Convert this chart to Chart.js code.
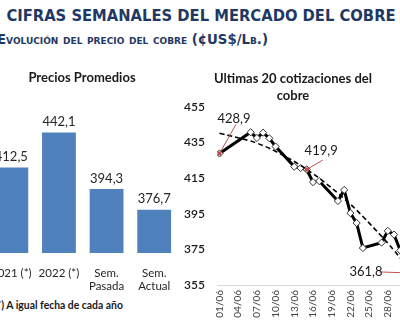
<!DOCTYPE html>
<html>
<head>
<meta charset="utf-8">
<script src="https://cdn.jsdelivr.net/npm/chart.js@4.4.0/dist/chart.umd.min.js"></script>
<style>
  body { margin: 0; width: 400px; height: 327px; overflow: hidden; position: relative; background: #fff; }
  #title { position: absolute; left: -49px; top: 6px; width: 500px; text-align: center; white-space: nowrap;
           font: bold 16px "DejaVu Sans"; color: #1F3864; transform: scaleX(0.923); transform-origin: 250px 0; }
  #subtitle { position: absolute; left: -3px; top: 32px; white-space: nowrap;
              font: bold 13.3px "DejaVu Sans"; font-variant: small-caps; color: #1F3864; }
  #note { position: absolute; left: -6px; top: 299px; white-space: nowrap; font: bold 10.4px Lato; color: #1a1a1a; }
  .box { position: absolute; }
</style>
</head>
<body>
<div id="title">CIFRAS SEMANALES DEL MERCADO DEL COBRE</div>
<div id="subtitle">Evolución del precio del cobre (¢US$/Lb.)</div>
<div class="box" style="left:-14px; top:66px; width:192px; height:227px;"><canvas id="barChart"></canvas></div>
<div class="box" style="left:177px; top:66px; width:252px; height:259px;"><canvas id="lineChart"></canvas></div>
<div id="note">(*) A igual fecha de cada año</div>
<script>
// Precios promedios
const barLabels = [['2021 (*)'], ['2022 (*)'], ['Sem.', 'Pasada'], ['Sem.', 'Actual']];
const barValues = [412.5, 442.1, 394.3, 376.7];

// Ultimas cotizaciones (dia de junio; 31 = 01/07)
const quoteDays = [1, 6, 7, 8, 9, 10, 13, 14, 15, 16, 17, 20, 21, 22, 23, 24, 27, 28, 29, 30, 31];
const quotePrices = [428.9, 440.8, 437.6, 440.6, 437.4, 432.8, 421.5, 420.7, 419.9, 412.8, 413.4,
                     402.2, 408.4, 395.4, 389.8, 375.8, 378.8, 385.4, 383.3, 374.4, 361.8];
const trendPrices = [440.3, 435.9, 434.7, 433.3, 431.8, 430.1, 424.4, 422.2, 420.0, 417.5, 415.0,
                     406.6, 403.5, 400.4, 397.0, 393.5, 382.4, 378.5, 374.4, 370.2, 365.7];
const tickDays = [1, 4, 7, 10, 13, 16, 19, 22, 25, 28, 31];
const tickLabels = ['01/06', '04/06', '07/06', '10/06', '13/06', '16/06', '19/06', '22/06', '25/06', '28/06', '01/07'];
const yTicks = [355, 375, 395, 415, 435, 455];
const labelledPoints = [0, 8, 20];

function fmt(v) {
    return v.toFixed(1).replace('.', ',');
}

// values above the bars
const barValueLabels = {
    id: 'barValueLabels',
    afterDatasetsDraw(chart) {
        const ctx = chart.ctx;
        ctx.save();
        ctx.font = '13px Lato';
        ctx.fillStyle = '#262626';
        ctx.textAlign = 'center';
        ctx.textBaseline = 'middle';
        chart.getDatasetMeta(0).data.forEach((bar, i) => {
            ctx.fillText(fmt(barValues[i]), bar.x, bar.y - 10.5);
        });
        ctx.restore();
    }
};

// labels with leader lines on the line chart
const callouts = {
    id: 'callouts',
    afterDatasetsDraw(chart) {
        const ctx = chart.ctx;
        const pts = chart.getDatasetMeta(1).data;
        const offsets = [
            { dx: 14.5, dy: -35, lx: 16.5, ly: -29 },
            { dx: 14.4, dy: -18.5, lx: 16, ly: -9.5 },
            { dx: -40.5, dy: -1, lx: -27, ly: -1 }
        ];
        ctx.save();
        labelledPoints.forEach((idx, k) => {
            const p = pts[idx];
            const o = offsets[k];
            ctx.strokeStyle = '#C0504D';
            ctx.lineWidth = 1;
            ctx.beginPath();
            ctx.moveTo(p.x + o.lx, p.y + o.ly);
            ctx.lineTo(p.x, p.y);
            ctx.stroke();
            ctx.fillStyle = '#C0504D';
            ctx.fillRect(p.x - 2, p.y - 2, 4, 4);
            ctx.font = '13px Lato';
            ctx.fillStyle = '#1a1a1a';
            ctx.textAlign = 'center';
            ctx.textBaseline = 'middle';
            ctx.fillText(fmt(quotePrices[idx]), p.x + o.dx, p.y + o.dy);
        });
        ctx.restore();
    }
};

new Chart(document.getElementById('barChart'), {
    type: 'bar',
    data: {
        labels: barLabels,
        datasets: [{
            data: barValues,
            backgroundColor: '#4F81BD',
            categoryPercentage: 1,
            barPercentage: 0.71
        }]
    },
    options: {
        responsive: true,
        maintainAspectRatio: false,
        animation: false,
        layout: { padding: 0 },
        plugins: {
            legend: { display: false },
            tooltip: { enabled: false },
            title: {
                display: true,
                text: 'Precios Promedios',
                color: '#1a1a1a',
                font: { family: 'Lato', size: 13, weight: 'bold' },
                padding: { top: 3.6, bottom: 14.4 }
            }
        },
        scales: {
            x: {
                grid: { display: false },
                border: { display: false },
                ticks: { color: '#262626', font: { family: 'Lato', size: 11.5 }, maxRotation: 0, autoSkip: false, padding: 5 },
                afterFit: s => { s.height = 40; }
            },
            y: { display: false, min: 340, max: 470 }
        }
    },
    plugins: [barValueLabels]
});

new Chart(document.getElementById('lineChart'), {
    type: 'line',
    data: {
        datasets: [{
            data: quoteDays.map((d, i) => ({ x: d, y: trendPrices[i] })),
            borderColor: '#000',
            borderWidth: 1.6,
            borderDash: [5, 3],
            pointRadius: 0,
            tension: 0.4
        }, {
            data: quoteDays.map((d, i) => ({ x: d, y: quotePrices[i] })),
            borderColor: '#000',
            borderWidth: 3,
            pointStyle: 'rectRot',
            pointRadius: 3.6,
            pointBackgroundColor: '#fff',
            pointBorderColor: '#333',
            pointBorderWidth: 1
        }]
    },
    options: {
        responsive: true,
        maintainAspectRatio: false,
        animation: false,
        layout: { padding: { right: 20 } },
        plugins: {
            legend: { display: false },
            tooltip: { enabled: false },
            title: {
                display: true,
                text: ['Ultimas 20 cotizaciones del', 'cobre'],
                color: '#1a1a1a',
                font: { family: 'Lato', size: 13, weight: 'bold', lineHeight: 1.3 },
                padding: { top: 4.6, bottom: 2.6 }
            }
        },
        scales: {
            x: {
                type: 'linear',
                min: 0.6,
                max: 31.4,
                grid: { display: false, drawTicks: false },
                border: { color: '#D9D9D9', width: 1 },
                afterBuildTicks: s => { s.ticks = tickDays.map(v => ({ value: v })); },
                ticks: {
                    color: '#404040',
                    font: { family: 'Lato', size: 10 },
                    minRotation: 90,
                    maxRotation: 90,
                    padding: 5,
                    autoSkip: false,
                    callback: v => tickLabels[tickDays.indexOf(v)]
                },
                afterFit: s => { s.height = 40; }
            },
            y: {
                min: 355,
                max: 455,
                grid: { display: false, drawTicks: false },
                border: { display: false },
                afterBuildTicks: s => { s.ticks = yTicks.map(v => ({ value: v })); },
                ticks: { color: '#1a1a1a', font: { family: 'Lato', size: 12, weight: '600' }, padding: 12 },
                afterFit: s => { s.width = 40; }
            }
        }
    },
    plugins: [callouts]
});
</script>
</body>
</html>
